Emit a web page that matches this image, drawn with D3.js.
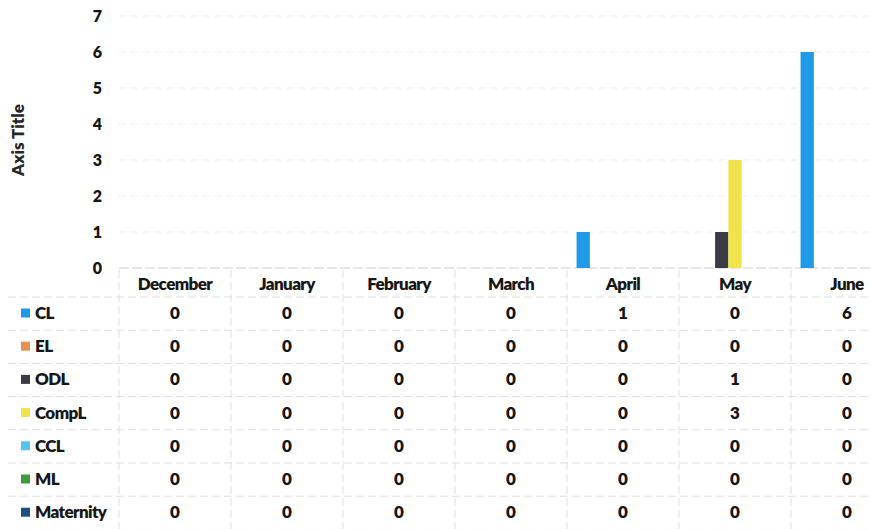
<!DOCTYPE html>
<html>
<head>
<meta charset="utf-8">
<script src="https://cdn.jsdelivr.net/npm/d3@7"></script>
<style>
  html, body { margin: 0; padding: 0; background: #ffffff; }
  svg { display: block; font-family: Lato, "Open Sans", sans-serif; }
</style>
</head>
<body>
<svg id="chart" width="871" height="529"></svg>
<script>
// Monthly leave counts per leave type
const months = ["December", "January", "February", "March", "April", "May", "June"];
const seriesNames = ["CL", "EL", "ODL", "CompL", "CCL", "ML", "Maternity"];
const seriesColors = ["#1f9ae8", "#e8904f", "#3a3b45", "#f1e34c", "#55c5ef", "#43973c", "#1f4f7d"];
const CL = [0, 0, 0, 0, 1, 0, 6];
const EL = [0, 0, 0, 0, 0, 0, 0];
const ODL = [0, 0, 0, 0, 0, 1, 0];
const CompL = [0, 0, 0, 0, 0, 3, 0];
const CCL = [0, 0, 0, 0, 0, 0, 0];
const ML = [0, 0, 0, 0, 0, 0, 0];
const Maternity = [0, 0, 0, 0, 0, 0, 0];
const yTicks = [0, 1, 2, 3, 4, 5, 6, 7];
const axisTitle = "Axis Title";

const seriesValues = [CL, EL, ODL, CompL, CCL, ML, Maternity];
const series = seriesNames.map((name, i) => ({ name, color: seriesColors[i], values: seriesValues[i] }));

const svg = d3.select("#chart");
const plotLeft = 119, plotRight = 903, plotTop = 16, plotBottom = 268;
const textColor = "#161616";

const x = d3.scaleBand().domain(months).range([plotLeft, plotRight]).paddingInner(0).paddingOuter(0);
const inner = d3.scaleBand().domain(seriesNames).range([0, x.bandwidth()]).paddingOuter(0.72).paddingInner(0);
const y = d3.scaleLinear().domain([0, 7]).range([plotBottom, plotTop]);

// horizontal gridlines
svg.append("g")
  .selectAll("line")
  .data(yTicks)
  .join("line")
  .attr("x1", plotLeft).attr("x2", plotRight)
  .attr("y1", d => y(d)).attr("y2", d => y(d))
  .attr("stroke", d => d === 0 ? "#cfcfcf" : "#eeeeee")
  .attr("stroke-width", 1)
  .attr("stroke-dasharray", d => d === 0 ? "10,3" : "6,6");

// y axis labels
const yAxis = d3.axisLeft(y).tickValues(yTicks).tickSize(0).tickPadding(0).tickFormat(d3.format("d"));
const yg = svg.append("g").attr("transform", `translate(${plotLeft - 17},0)`).call(yAxis);
yg.select(".domain").remove();
yg.selectAll("text")
  .attr("font-size", 16).attr("font-weight", 800).attr("fill", textColor)
  .attr("font-family", "Lato, sans-serif");

// axis title
svg.append("text")
  .attr("transform", `translate(24,${(plotTop + plotBottom) / 2 - 2}) rotate(-90)`)
  .attr("text-anchor", "middle")
  .attr("font-size", 17).attr("font-weight", 800).attr("fill", "#262626")
  .text(axisTitle);

// bars
const groups = svg.append("g").selectAll("g")
  .data(series)
  .join("g")
  .attr("fill", d => d.color);
groups.selectAll("rect")
  .data(d => d.values.map((v, i) => ({ name: d.name, month: months[i], v })))
  .join("rect")
  .attr("x", d => x(d.month) + inner(d.name))
  .attr("width", inner.bandwidth())
  .attr("y", d => y(d.v))
  .attr("height", d => y(0) - y(d.v));

// data table
const headerY = 284;
const rowStart = 313;
const rowStep = 33.2;
const tableTop = 270;
const rowLine = i => 297 + rowStep * i;

const grid = svg.append("g").attr("stroke", "#e0e0e0").attr("stroke-width", 1);
// row separators
grid.selectAll("line.h")
  .data(d3.range(seriesNames.length + 1))
  .join("line")
  .attr("class", "h")
  .attr("x1", 8).attr("x2", plotRight)
  .attr("y1", i => rowLine(i)).attr("y2", i => rowLine(i))
  .attr("stroke-dasharray", "8,4");
// column separators
grid.selectAll("line.v")
  .data(d3.range(months.length + 1))
  .join("line")
  .attr("class", "v")
  .attr("x1", i => plotLeft + x.step() * i).attr("x2", i => plotLeft + x.step() * i)
  .attr("y1", tableTop).attr("y2", 529)
  .attr("stroke-dasharray", "8,4");

// month headers
svg.append("g").selectAll("text")
  .data(months)
  .join("text")
  .attr("x", d => x(d) + x.bandwidth() / 2)
  .attr("y", headerY)
  .attr("dy", "0.35em")
  .attr("text-anchor", "middle")
  .attr("font-size", 17).attr("font-weight", 800).attr("fill", textColor)
  .attr("letter-spacing", "-0.6")
  .text(d => d);

// legend keys and series labels
const rows = svg.append("g").selectAll("g")
  .data(series)
  .join("g")
  .attr("transform", (d, i) => `translate(0,${rowStart + rowStep * i})`);
rows.append("rect")
  .attr("x", 21).attr("y", -4.5).attr("width", 9).attr("height", 9)
  .attr("fill", d => d.color);
rows.append("text")
  .attr("x", 35).attr("dy", "0.35em")
  .attr("font-size", 17).attr("font-weight", 800).attr("fill", textColor)
  .attr("letter-spacing", "-0.6")
  .text(d => d.name);
rows.selectAll("text.val")
  .data(d => d.values.map((v, i) => ({ v, month: months[i] })))
  .join("text")
  .attr("class", "val")
  .attr("x", d => x(d.month) + x.bandwidth() / 2)
  .attr("dy", "0.35em")
  .attr("text-anchor", "middle")
  .attr("font-size", 17).attr("font-weight", 800).attr("fill", textColor)
  .text(d => d.v);
</script>
</body>
</html>
